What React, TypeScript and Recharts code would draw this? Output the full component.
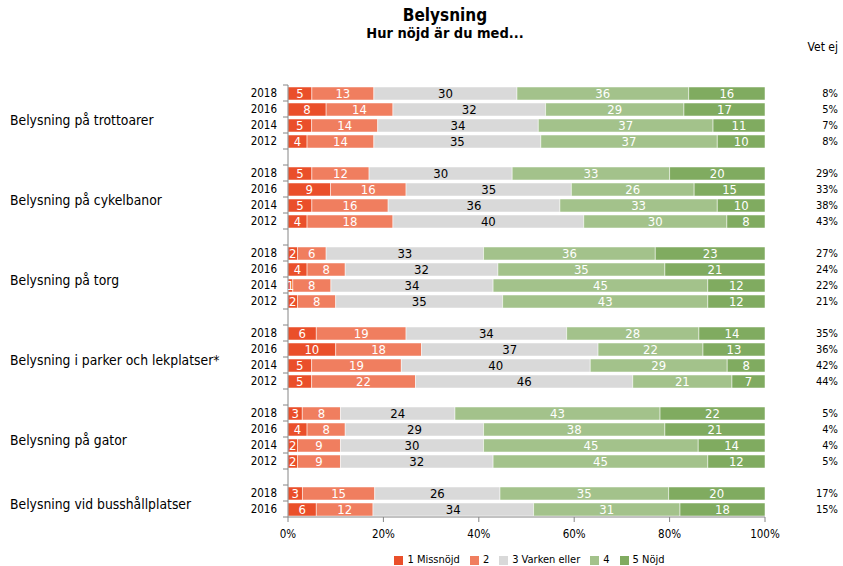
import React from 'react';
import { BarChart, Bar, XAxis, YAxis, Legend, LabelList } from 'recharts';

const GROUPS = [
  'Belysning på trottoarer',
  'Belysning på cykelbanor',
  'Belysning på torg',
  'Belysning i parker och lekplatser*',
  'Belysning på gator',
  'Belysning vid busshållplatser',
];
const YEARS = [
  ['2018', '2016', '2014', '2012'],
  ['2018', '2016', '2014', '2012'],
  ['2018', '2016', '2014', '2012'],
  ['2018', '2016', '2014', '2012'],
  ['2018', '2016', '2014', '2012'],
  ['2018', '2016'],
];
const MISSNOJD = [[5, 8, 5, 4], [5, 9, 5, 4], [2, 4, 1, 2], [6, 10, 5, 5], [3, 4, 2, 2], [3, 6]];
const TVA = [[13, 14, 14, 14], [12, 16, 16, 18], [6, 8, 8, 8], [19, 18, 19, 22], [8, 8, 9, 9], [15, 12]];
const VARKEN = [[30, 32, 34, 35], [30, 35, 36, 40], [33, 32, 34, 35], [34, 37, 40, 46], [24, 29, 30, 32], [26, 34]];
const FYRA = [[36, 29, 37, 37], [33, 26, 33, 30], [36, 35, 45, 43], [28, 22, 29, 21], [43, 38, 45, 45], [35, 31]];
const NOJD = [[16, 17, 11, 10], [20, 15, 10, 8], [23, 21, 12, 12], [14, 13, 8, 7], [22, 21, 14, 12], [20, 18]];
const VET_EJ = [[8, 5, 7, 8], [29, 33, 38, 43], [27, 24, 22, 21], [35, 36, 42, 44], [5, 4, 4, 5], [17, 15]];

const X_TICKS = [0, 0.2, 0.4, 0.6, 0.8, 1];

const SERIES = [
  { key: 's1', name: '1 Missnöjd', color: '#ea4f2a', text: '#fff' },
  { key: 's2', name: '2', color: '#f07e5f', text: '#fff' },
  { key: 's3', name: '3 Varken eller', color: '#d9d9d9', text: '#000' },
  { key: 's4', name: '4', color: '#a3c28b', text: '#fff' },
  { key: 's5', name: '5 Nöjd', color: '#80ab60', text: '#fff' },
];

const FONT = "'DejaVu Sans Condensed', 'DejaVu Sans', sans-serif";
const W = 843;
const H = 566;
const PLOT_LEFT = 288;
const PLOT_RIGHT = 765;
const PLOT_TOP = 85;

interface Row {
  key: string;
  year?: string;
  group?: string;
  vetEj?: number;
  s1?: number | null;
  s2?: number | null;
  s3?: number | null;
  s4?: number | null;
  s5?: number | null;
}

const rows: Row[] = [];
GROUPS.forEach((g, gi) => {
  const ys = YEARS[gi];
  ys.forEach((y, yi) => {
    rows.push({
      key: `${gi}-${y}`,
      year: y,
      group: yi === ys.length / 2 - 1 ? g : undefined,
      vetEj: VET_EJ[gi][yi],
      s1: MISSNOJD[gi][yi],
      s2: TVA[gi][yi],
      s3: VARKEN[gi][yi],
      s4: FYRA[gi][yi],
      s5: NOJD[gi][yi],
    });
  });
  if (gi < GROUPS.length - 1) rows.push({ key: `gap-${gi}`, s1: null, s2: null, s3: null, s4: null, s5: null });
});

const BAND = 16;
const rowByKey = new Map(rows.map((r) => [r.key, r]));

function YTick(props: any) {
  const { y, payload, index } = props;
  const row = rowByKey.get(payload.value);
  if (!row) return null;
  const isLast = index === rows.length - 1;
  return (
    <g>
      <line x1={PLOT_LEFT - 5} x2={PLOT_LEFT} y1={y - BAND / 2} y2={y - BAND / 2} stroke="#868686" />
      {isLast && <line x1={PLOT_LEFT - 5} x2={PLOT_LEFT} y1={y + BAND / 2} y2={y + BAND / 2} stroke="#868686" />}
      {row.year && (
        <text x={277} y={y} dy="0.35em" textAnchor="end" fontSize={11.5} fill="#000" fontFamily={FONT}>
          {row.year}
        </text>
      )}
      {row.group && (
        <text x={10} y={y + BAND / 2 + 3} dy="0.35em" textAnchor="start" fontSize={13.8} fill="#000" fontFamily={FONT}>
          {row.group}
        </text>
      )}
      {row.vetEj != null && (
        <text x={838} y={y} dy="0.35em" textAnchor="end" fontSize={11} fill="#000" fontFamily={FONT}>
          {`${row.vetEj}%`}
        </text>
      )}
    </g>
  );
}

export default function App(): JSX.Element {
  return (
    <div style={{ position: 'absolute', left: 0, top: 0, width: W, height: H, background: '#fff', fontFamily: FONT }}>
      <div style={{ position: 'absolute', left: 245, width: 400, top: 5, textAlign: 'center', fontWeight: 'bold', fontSize: 17 }}>
        Belysning
      </div>
      <div style={{ position: 'absolute', left: 245, width: 400, top: 25, textAlign: 'center', fontWeight: 'bold', fontSize: 14.5 }}>
        Hur nöjd är du med...
      </div>
      <div style={{ position: 'absolute', right: 5, top: 40, fontSize: 12 }}>Vet ej</div>
      <BarChart
        width={W}
        height={H}
        data={rows}
        layout="vertical"
        stackOffset="expand"
        margin={{ top: PLOT_TOP, right: W - PLOT_RIGHT, left: PLOT_LEFT - 60, bottom: 6 }}
      >
        <XAxis
          type="number"
          domain={[0, 1]}
          ticks={X_TICKS}
          tickFormatter={(v: number) => `${Math.round(v * 100)}%`}
          axisLine={{ stroke: '#868686' }}
          tickLine={{ stroke: '#868686' }}
          tickSize={5}
          tickMargin={8}
          height={30}
          tick={{ fontSize: 11.5, fill: '#000', fontFamily: FONT }}
        />
        <YAxis
          type="category"
          dataKey="key"
          width={60}
          interval={0}
          tickLine={false}
          axisLine={{ stroke: '#868686' }}
          tick={<YTick />}
        />
        <Legend
          verticalAlign="bottom"
          iconType="square"
          iconSize={9}
          wrapperStyle={{ left: PLOT_LEFT + 8, width: PLOT_RIGHT - PLOT_LEFT, bottom: 0, fontSize: 11, fontFamily: FONT }}
          formatter={(value: string) => <span style={{ color: '#000' }}>{value}</span>}
        />
        {SERIES.map((s) => (
          <Bar
            key={s.key}
            dataKey={s.key}
            name={s.name}
            stackId="a"
            fill={s.color}
            stroke="#fff"
            strokeWidth={0.5}
            barSize={13}
            isAnimationActive={false}
          >
            <LabelList
              dataKey={s.key}
              position="center"
              fill={s.text}
              fontSize={13}
              fontFamily={FONT}
              formatter={(v: any) => (v ? v : '')}
            />
          </Bar>
        ))}
      </BarChart>
    </div>
  );
}
